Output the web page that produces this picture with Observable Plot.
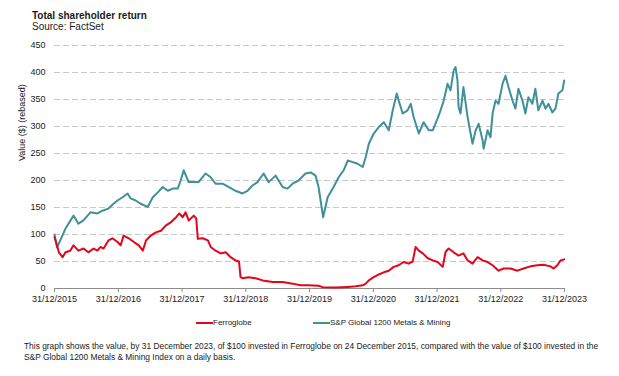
<!DOCTYPE html>
<html>
<head>
<meta charset="utf-8">
<script src="https://cdn.jsdelivr.net/npm/d3@7"></script>
<script src="https://cdn.jsdelivr.net/npm/@observablehq/plot@0.6"></script>
<style>
  html, body { margin: 0; padding: 0; background: #fff; }
  body { width: 619px; height: 376px; position: relative; overflow: hidden;
         font-family: "Liberation Sans", Arial, sans-serif; color: #1a1a1a; }
  .abs { position: absolute; white-space: nowrap; }
  #title { left: 32px; top: 10px; font-size: 10px; font-weight: bold; line-height: 12px; }
  #source { left: 32px; top: 21px; font-size: 10px; line-height: 12px; }
  #chart { left: 0; top: 36px; }
  .sw { position: absolute; height: 2px; }
  .lg { font-size: 8px; line-height: 10px; }
  #caption { left: 24px; top: 341px; font-size: 8.4px; line-height: 11px; }
</style>
</head>
<body>
<div id="title" class="abs">Total shareholder return</div>
<div id="source" class="abs">Source: FactSet</div>
<div id="chart" class="abs"></div>
<div id="legend"></div>
<div id="caption" class="abs">This graph shows the value, by 31 December 2023, of $100 invested in Ferroglobe on 24 December 2015, compared with the value of $100 invested in the<br>S&amp;P Global 1200 Metals &amp; Mining Index on a daily basis.</div>
<script>
const seriesNames = ["Ferroglobe", "S&P Global 1200 Metals & Mining"];
const seriesColors = ["#e2061c", "#3f9099"];
const yTicks = [0, 50, 100, 150, 200, 250, 300, 350, 400, 450];
const xTickLabels = ["31/12/2015","31/12/2016","31/12/2017","31/12/2018","31/12/2019","31/12/2020","31/12/2021","31/12/2022","31/12/2023"];
const yLabel = "Value ($) (rebased)";

const ferroDates = ["2015-12-31","2016-01-06","2016-01-25","2016-02-15","2016-03-03","2016-03-30","2016-04-18","2016-05-16","2016-06-14","2016-07-12","2016-08-11","2016-09-02","2016-09-20","2016-10-07","2016-11-04","2016-11-27","2016-12-26","2017-01-13","2017-01-30","2017-02-28","2017-03-30","2017-04-27","2017-05-20","2017-06-07","2017-07-05","2017-08-03","2017-09-01","2017-09-30","2017-10-29","2017-11-27","2017-12-15","2018-01-03","2018-01-20","2018-02-07","2018-03-08","2018-03-22","2018-03-31","2018-04-29","2018-05-28","2018-06-13","2018-07-11","2018-08-09","2018-09-07","2018-10-05","2018-11-02","2018-11-22","2018-12-01","2018-12-12","2019-01-16","2019-02-25","2019-04-07","2019-06-03","2019-07-30","2019-09-25","2019-11-10","2019-12-26","2020-02-21","2020-03-15","2020-05-30","2020-08-06","2020-09-22","2020-10-31","2020-11-17","2020-12-05","2021-01-02","2021-01-31","2021-03-01","2021-03-29","2021-04-26","2021-05-25","2021-06-22","2021-07-21","2021-08-13","2021-08-30","2021-09-17","2021-10-10","2021-11-08","2021-12-06","2022-01-03","2022-02-01","2022-02-18","2022-03-07","2022-04-05","2022-05-03","2022-05-31","2022-06-24","2022-07-22","2022-08-20","2022-09-18","2022-10-16","2022-11-14","2022-12-18","2023-01-16","2023-02-25","2023-04-05","2023-05-10","2023-06-19","2023-07-29","2023-09-01","2023-10-11","2023-10-29","2023-11-20","2023-12-08","2023-12-29"];
const ferroValues = [95,89,67,58,67,70,80,70,74,67,74,70,77,74,89,93,86,80,98,93,86,80,70,89,98,104,107,117,123,132,139,132,141,126,135,130,92,93,89,77,70,65,67,58,52,50,21,19,21,19,15,12,12,9,6,6,5,2.5,2,3,4,6,9,15,21,26,30,33,40,43,49,46,50,77,70,65,56,52,49,40,68,74,67,61,65,52,46,58,52,49,43,33,37,37,33,37,41,43,44,41,37,43,52,54];

const spDates = ["2015-12-31","2016-01-15","2016-03-03","2016-04-18","2016-05-16","2016-06-14","2016-07-24","2016-09-02","2016-10-01","2016-11-04","2016-12-03","2016-12-26","2017-01-24","2017-02-22","2017-03-11","2017-04-09","2017-05-08","2017-06-17","2017-07-16","2017-08-14","2017-09-11","2017-10-10","2017-11-07","2017-12-06","2017-12-23","2018-01-09","2018-02-07","2018-03-01","2018-04-04","2018-05-15","2018-06-13","2018-07-11","2018-08-20","2018-09-23","2018-11-02","2018-12-12","2019-01-10","2019-02-08","2019-03-08","2019-04-12","2019-05-11","2019-06-20","2019-07-30","2019-08-27","2019-09-25","2019-10-29","2019-12-08","2020-01-06","2020-02-04","2020-02-21","2020-03-18","2020-04-13","2020-05-17","2020-06-15","2020-07-14","2020-08-06","2020-09-04","2020-10-02","2020-10-31","2020-11-17","2020-12-05","2021-01-02","2021-01-31","2021-03-01","2021-03-29","2021-04-21","2021-05-14","2021-05-25","2021-06-17","2021-07-15","2021-08-02","2021-08-19","2021-09-17","2021-10-15","2021-11-13","2021-12-06","2022-01-03","2022-01-20","2022-02-07","2022-03-01","2022-03-18","2022-04-05","2022-04-16","2022-04-27","2022-05-03","2022-05-14","2022-05-31","2022-06-24","2022-07-11","2022-07-22","2022-08-09","2022-08-26","2022-09-18","2022-09-24","2022-10-16","2022-11-02","2022-11-14","2022-12-01","2022-12-18","2023-01-10","2023-01-27","2023-02-13","2023-03-08","2023-03-25","2023-04-11","2023-05-04","2023-05-21","2023-06-07","2023-06-30","2023-07-17","2023-08-03","2023-08-27","2023-09-13","2023-09-30","2023-10-23","2023-11-09","2023-11-26","2023-12-19","2023-12-29"];
const spValues = [100,76,111,135,120,126,141,139,144,148,157,163,169,176,167,163,157,151,169,178,188,181,185,185,200,219,197,197,197,213,206,194,194,188,181,176,181,191,197,213,197,209,188,185,194,200,213,215,209,188,132,169,188,206,219,237,234,231,225,243,268,287,299,308,293,330,361,348,324,330,342,317,287,308,293,293,315,330,348,379,367,404,410,385,336,324,373,317,287,268,293,305,274,259,293,280,324,348,342,379,394,373,348,333,370,348,324,354,342,370,330,348,333,342,326,333,361,367,385];

const parse = d3.utcParse("%Y-%m-%d");
const parseTick = d3.utcParse("%d/%m/%Y");
const ferro = ferroDates.map((d, i) => ({date: parse(d), value: ferroValues[i]}));
const sp = spDates.map((d, i) => ({date: parse(d), value: spValues[i]}));
const xTicks = xTickLabels.map(parseTick);

const chart = Plot.plot({
  width: 619,
  height: 270,
  marginTop: 9,
  marginBottom: 18,
  marginLeft: 54,
  marginRight: 55,
  style: {fontFamily: "'Liberation Sans', Arial, sans-serif", fontSize: "9px", color: "#1a1a1a", background: "transparent"},
  x: {type: "utc", domain: [xTicks[0], xTicks[xTicks.length - 1]]},
  y: {domain: [0, 450]},
  marks: [
    Plot.ruleY(yTicks.filter(d => d > 0), {stroke: "#c9c9c9", strokeWidth: 1, strokeDasharray: "6,3"}),
    Plot.axisY({ticks: yTicks, tickSize: 0, tickPadding: 9, label: null, fill: "#1a1a1a"}),
    Plot.axisX({ticks: xTicks, tickFormat: (d, i) => xTickLabels[i], tickSize: 4, tickPadding: 3, label: null, stroke: "#8c8c8c", fill: "#1a1a1a"}),
    Plot.ruleY([0], {stroke: "#8c8c8c", strokeWidth: 1}),
    Plot.lineY(sp, {x: "date", y: "value", stroke: seriesColors[1], strokeWidth: 2, strokeLinejoin: "round"}),
    Plot.lineY(ferro, {x: "date", y: "value", stroke: seriesColors[0], strokeWidth: 2, strokeLinejoin: "round"}),
    Plot.text([yLabel], {frameAnchor: "left", text: d => d, rotate: -90, dx: -32, dy: -6, fontSize: 9, fill: "#1a1a1a"})
  ]
});
document.getElementById("chart").appendChild(chart);

const legend = document.getElementById("legend");
const legendPos = [196, 313];
seriesNames.forEach((name, i) => {
  const sw = document.createElement("div");
  sw.className = "sw";
  sw.style.left = legendPos[i] + "px";
  sw.style.top = "322px";
  sw.style.width = "17px";
  sw.style.background = seriesColors[i];
  legend.appendChild(sw);
  const t = document.createElement("div");
  t.className = "abs lg";
  t.style.left = (legendPos[i] + 17) + "px";
  t.style.top = "318px";
  t.textContent = name;
  legend.appendChild(t);
});
</script>
</body>
</html>
